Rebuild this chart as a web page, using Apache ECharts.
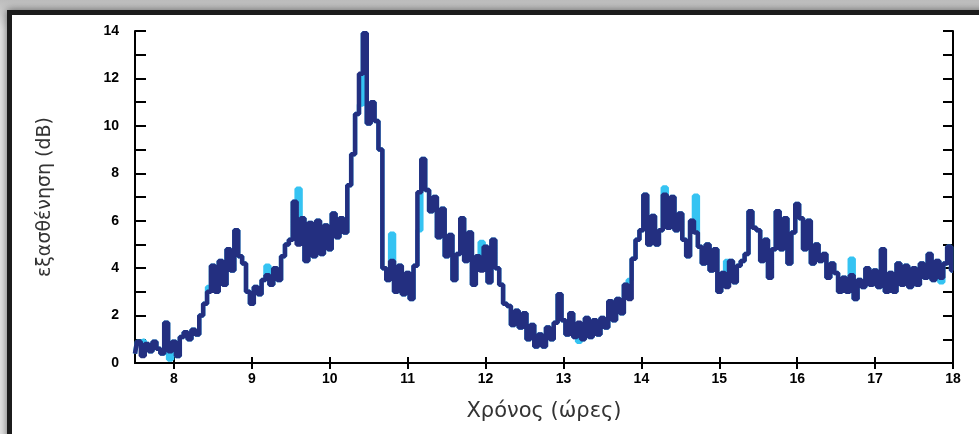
<!DOCTYPE html>
<html>
<head>
<meta charset="utf-8">
<script src="https://cdn.jsdelivr.net/npm/echarts@6/dist/echarts.min.js"></script>
<style>
  html, body { margin: 0; padding: 0; }
  body {
    width: 979px; height: 434px; overflow: hidden; position: relative;
    background: linear-gradient(#bdbdbd, #e6e6e6 30px, #e6e6e6);
  }
  #frame {
    position: absolute; left: 7px; top: 10px; width: 1000px; height: 430px;
    border: 5px solid #1c1c1c; background: white;
    box-shadow: 0 0 8px rgba(0, 0, 0, .55);
  }
  #attenChart { position: absolute; left: 0; top: 0; width: 979px; height: 434px; }
</style>
</head>
<body>
<div id="frame"></div>
<div id="attenChart"></div>
<script>
// time grid: one reading every 0.05 h from 7.5 h to 18 h
const startHour = 7.5
const stepHour = 0.05

// attenuation (dB)
const attenuation = [
  0.4, 0.9, 0.3, 0.8, 0.5, 0.9, 0.6, 0.4, 1.7, 0.5,
  0.9, 0.3, 1.1, 1.3, 1.0, 1.4, 1.2, 2.0, 2.5, 3.0,
  4.1, 3.0, 4.3, 3.3, 4.8, 3.9, 5.6, 4.5, 4.2, 3.0,
  2.5, 3.2, 2.9, 3.5, 3.7, 3.3, 4.0, 3.5, 4.5, 5.0,
  5.2, 6.8, 5.0, 6.1, 4.3, 5.9, 4.5, 6.0, 4.6, 5.8,
  4.8, 6.3, 5.3, 6.1, 5.5, 7.5, 8.8, 10.5, 12.2, 13.9,
  10.1, 11.0, 10.2, 9.0, 4.0, 3.5, 4.3, 3.0, 4.1, 2.9,
  3.8, 2.7, 4.1, 7.2, 8.6, 7.3, 6.4, 7.0, 5.3, 6.5,
  4.5, 5.4, 3.5, 4.6, 6.1, 4.3, 5.5, 3.3, 4.5, 3.9,
  4.9, 3.4, 5.2, 4.0, 3.3, 2.5, 2.4, 1.6, 2.2, 1.5,
  2.1, 1.0, 1.6, 0.7, 1.2, 0.7, 1.5, 1.0, 1.7, 2.9,
  1.8, 1.2, 2.1, 1.1, 1.7, 1.0, 1.9, 1.1, 1.8, 1.2,
  1.9, 1.5, 2.6, 1.8, 2.7, 2.1, 3.3, 2.7, 4.4, 5.2,
  5.6, 7.1, 5.0, 6.2, 5.0, 5.6, 7.1, 5.7, 7.0, 5.6,
  6.3, 5.2, 4.5, 6.0, 5.5, 4.9, 4.2, 5.0, 3.9, 4.8,
  3.0, 3.8, 3.2, 4.3, 3.4, 4.1, 4.3, 4.6, 6.4, 5.7,
  5.6, 4.3, 5.2, 3.6, 4.8, 6.4, 4.8, 6.1, 4.2, 5.5,
  6.7, 6.1, 4.8, 6.0, 4.2, 5.0, 4.3, 4.6, 3.6, 4.2,
  3.8, 3.0, 3.6, 3.0, 3.7, 2.7, 3.5, 3.2, 4.0, 3.3,
  3.9, 3.2, 4.8, 3.0, 3.8, 3.0, 4.2, 3.3, 4.1, 3.2,
  4.0, 3.3, 4.2, 3.6, 4.6, 3.5, 4.3, 3.6, 4.2, 4.9,
  3.9
]

// places where the light trace shows past the dark one: [hour, dB]
const lightPeaks = [
  [7.6, 0.95], [7.95, 0.15], [8.45, 3.2], [9.2, 4.1], [9.6, 7.35],
  [10.4, 10.9], [10.8, 5.45], [11.15, 5.6], [11.95, 5.1], [13.2, 0.9],
  [13.85, 3.5], [14.3, 7.4], [14.7, 7.05], [15.1, 4.3], [16.7, 4.4], [17.85, 3.4]
]

const xTicks = [8, 9, 10, 11, 12, 13, 14, 15, 16, 17, 18]
const yLabels = [0, 2, 4, 6, 8, 10, 12, 14]

const hourAt = i => +(startHour + i * stepHour).toFixed(2)
const darkData = attenuation.map((v, i) => [hourAt(i), v])
const lightData = darkData.map(p => p.slice())
lightPeaks.forEach(([h, v]) => {
  const i = Math.round((h - startHour) / stepHour)
  lightData[i] = [hourAt(i), v]
})

const labelFont = { color: '#000', fontFamily: 'Liberation Sans', fontWeight: 'bold', fontSize: 14 }

let option = {
  animation: false,
  grid: { left: 135, right: 26, top: 31, bottom: 71 },
  xAxis: [
    {
      type: 'value', min: 7.5, max: 18,
      name: 'Χρόνος (ώρες)', nameLocation: 'middle', nameGap: 38,
      nameTextStyle: { color: '#333', fontFamily: 'DejaVu Sans', fontSize: 21 },
      axisLine: { lineStyle: { color: '#000', width: 2 } },
      axisTick: { inside: true, length: 6, customValues: xTicks, lineStyle: { color: '#000', width: 2 } },
      axisLabel: { customValues: xTicks, margin: 9, ...labelFont },
      splitLine: { show: false }
    },
    {
      type: 'value', min: 7.5, max: 18, position: 'top',
      axisLine: { lineStyle: { color: '#000', width: 2 } },
      axisTick: { inside: true, length: 6, customValues: xTicks, lineStyle: { color: '#000', width: 2 } },
      axisLabel: { show: false },
      splitLine: { show: false }
    }
  ],
  yAxis: [
    {
      type: 'value', min: 0, max: 14, interval: 1,
      name: 'εξασθένηση (dB)', nameLocation: 'middle', nameGap: 80,
      nameTextStyle: { color: '#333', fontFamily: 'DejaVu Sans', fontSize: 19 },
      axisLine: { show: true, lineStyle: { color: '#000', width: 2 } },
      axisTick: { inside: true, length: 11, lineStyle: { color: '#000', width: 2 } },
      axisLabel: { customValues: yLabels, margin: 16, ...labelFont },
      splitLine: { show: false }
    },
    {
      type: 'value', min: 0, max: 14, interval: 1, position: 'right',
      axisLine: { show: true, lineStyle: { color: '#000', width: 2 } },
      axisTick: { inside: true, length: 10, lineStyle: { color: '#000', width: 2 } },
      axisLabel: { show: false },
      splitLine: { show: false }
    }
  ],
  series: [
    {
      name: 'light', type: 'line', step: 'middle', showSymbol: false,
      data: lightData,
      lineStyle: { color: '#35c3f2', width: 4.5 }
    },
    {
      name: 'dark', type: 'line', step: 'middle', showSymbol: false,
      data: darkData,
      lineStyle: { color: '#232f80', width: 4.5 }
    }
  ]
}

let myChart = echarts.init(document.querySelector('#attenChart'))
myChart.setOption(option)
</script>
</body>
</html>
